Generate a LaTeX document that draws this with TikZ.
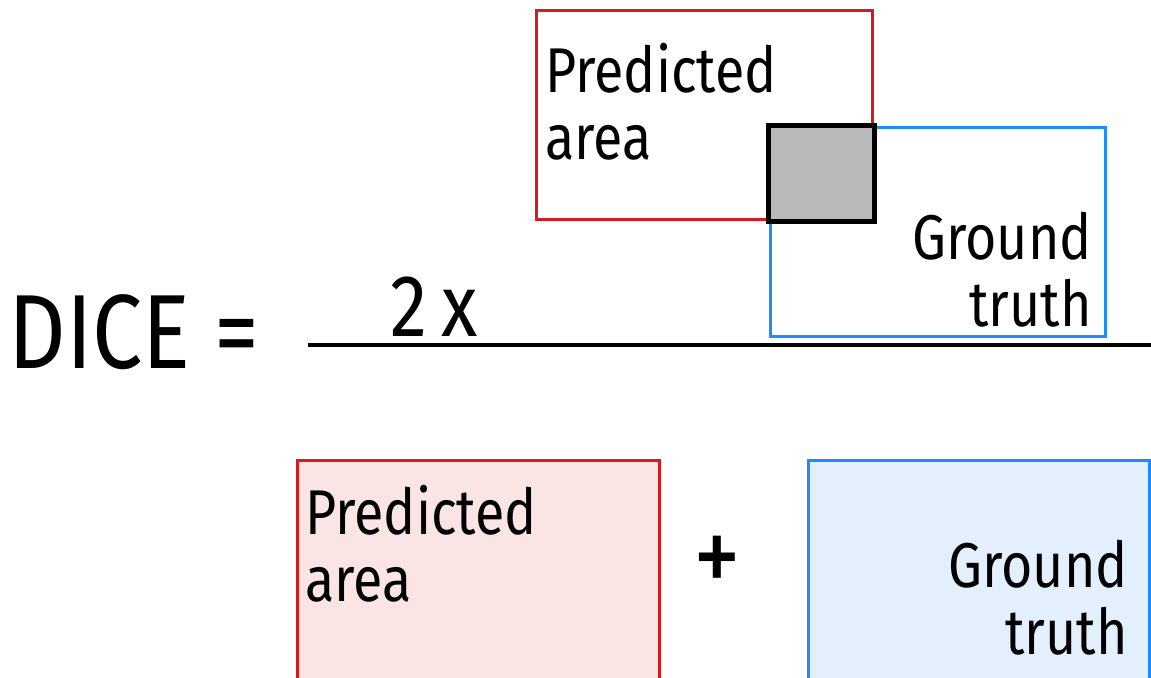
\documentclass[tikz,border=0pt]{standalone}
\usepackage{fontspec}
\usepackage{tikz}
\usetikzlibrary{positioning, calc}
\newfontfamily\handfont[FakeStretch=0.85]{Fira Sans}
\definecolor{predred}{RGB}{215, 25, 32}
\definecolor{truthblue}{RGB}{30, 140, 255}
\definecolor{predfill}{RGB}{250, 228, 228}
\definecolor{truthfill}{RGB}{228, 239, 253}
\definecolor{overlapgray}{RGB}{185, 185, 185}

\begin{document}
\begin{tikzpicture}[
        x=0.02cm, y=-0.02cm,
        predbox/.style={rectangle, draw=predred, line width=1.7pt, inner sep=0pt},
        truthbox/.style={rectangle, draw=truthblue, line width=1.7pt, inner sep=0pt},
        overlap/.style={draw=black, fill=overlapgray, line width=2.6pt},
        label/.style={inner sep=0pt, font=\handfont\fontsize{36}{38}\selectfont},
        fracline/.style={line width=2.3pt, draw=black}
    ]
        \clip (0,0) rectangle (1151,677);
        \fill[white] (0,0) rectangle (1151,677);

        % numerator: the two overlapping areas
        \node[predbox, minimum width=6.74cm, minimum height=4.2cm] (pred) at (704.5,115) {};
        \node[truthbox, minimum width=6.72cm, minimum height=4.2cm] (truth) at (938,232) {};
        \draw[overlap] (truth.north west) rectangle (pred.south east);
        \node[label, anchor=north west, align=left] (predtext) at (545,43) {Predicted\\area};
        \node[label, anchor=north east, align=right] (truthtext) at (1092,212) {Ground\\truth};

        % left side and fraction bar
        \node[label, anchor=base west, font=\handfont\fontsize{60}{60}\selectfont] (dice) at (8,368) {DICE =};
        \node[label, anchor=base west, font=\handfont\fontsize{50}{50}\selectfont] (two) at (390,336) {2\,x};
        \draw[fracline] (308,345) -- (1151,345);

        % denominator: the two areas added
        \node[predbox, fill=predfill, minimum width=7.26cm, minimum height=4.6cm] (predden) at (478.5,575) {};
        \node[truthbox, fill=truthfill, minimum width=6.84cm, minimum height=4.6cm] (truthden) at (979,575) {};
        \node[label, anchor=north west, align=left] (predtextden) at (305,485) {Predicted\\area};
        \node[label, anchor=north east, align=right] (truthtextden) at (1128,540) {Ground\\truth};
        \node[label, font=\handfont\fontsize{64}{64}\selectfont] (plus) at (717,565) {+};
\end{tikzpicture}
\end{document}
